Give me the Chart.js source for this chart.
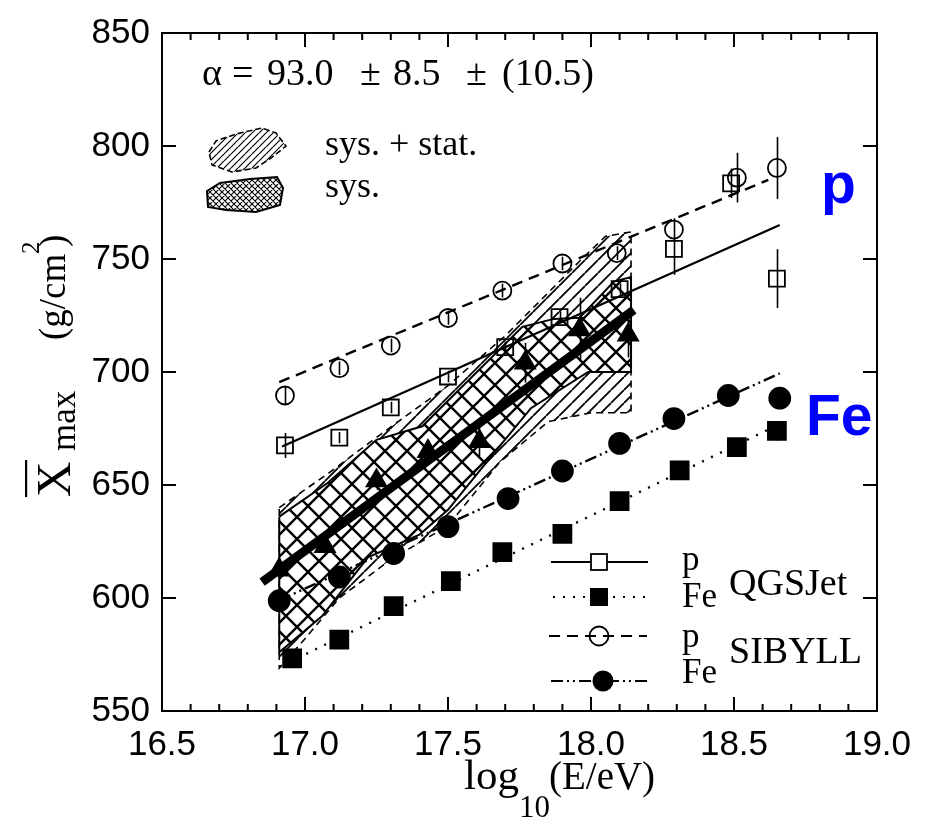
<!DOCTYPE html>
<html>
<head>
<meta charset="utf-8">
<script src="https://cdn.jsdelivr.net/npm/chart.js@4.4.1/dist/chart.umd.min.js"></script>
<style>
  html, body { margin: 0; padding: 0; background: #fff; overflow: hidden; }
  canvas { display: block; }
</style>
</head>
<body>
<canvas id="xmax" width="927" height="822" style="width:927px;height:822px"></canvas>
<script>
// axis ticks
const xTicks = [16.5, 17.0, 17.5, 18.0, 18.5, 19.0];
const xMinorTicks = [16.6, 16.7, 16.8, 16.9, 17.1, 17.2, 17.3, 17.4, 17.6, 17.7, 17.8, 17.9,
                     18.1, 18.2, 18.3, 18.4, 18.6, 18.7, 18.8, 18.9];
const yTicks = [550, 600, 650, 700, 750, 800, 850];

// measured <Xmax> (filled triangles)
const dataE = [16.91, 17.07, 17.25, 17.43, 17.61, 17.77, 17.96, 18.13];
const dataX = [612.5, 622.9, 651.9, 664.9, 669.3, 704.1, 718.8, 716.4];
const dataErr = [4, 4, 4, 5, 6.5, 8.7, 14, 10];

// straight line fit to the data, alpha = 93
const fitE = [16.85, 18.15];
const fitX = [607, 727.5];

// sys. + stat. band (upper and lower edge)
const outerUpE = [16.91, 17.08, 17.26, 17.50, 17.70, 17.96, 18.05, 18.14];
const outerUpX = [640, 655, 672, 694, 716, 749, 760, 762];
const outerLoE = [16.91, 17.00, 17.12, 17.30, 17.50, 17.68, 17.85, 18.00, 18.14];
const outerLoX = [569, 582, 600, 617, 632, 660, 678, 682, 682];

// sys. band
const innerUpE = [16.91, 17.08, 17.25, 17.41, 17.76, 17.87, 17.96, 18.08, 18.14];
const innerUpX = [636, 651, 670, 676, 720, 723.5, 724, 740, 742];
const innerLoE = [16.91, 17.06, 17.22, 17.40, 17.50, 17.66, 17.79, 17.99, 18.14];
const innerLoX = [576, 592, 618, 628, 639, 664, 684, 700, 700];

// QGSJet proton (open squares)
const qgsPE = [16.93, 17.12, 17.30, 17.50, 17.70, 17.89, 18.10, 18.29, 18.49, 18.65];
const qgsPX = [667.5, 671, 684.3, 698, 711, 724.3, 736.7, 754.5, 783.5, 741.3];
const qgsPErr = [5.5, 2.5, 2.5, 2.5, 2.5, 2.5, 2.5, 11.5, 6.5, 13];
const qgsPLineE = [16.92, 18.66];
const qgsPLineX = [667, 765];

// QGSJet iron (filled squares)
const qgsFeE = [16.955, 17.12, 17.31, 17.51, 17.69, 17.90, 18.10, 18.31, 18.51, 18.65];
const qgsFeX = [573.3, 581.6, 596.4, 607.5, 620.3, 628.4, 642.9, 656.5, 666.8, 674];
const qgsFeErr = [0, 0, 0, 0, 0, 0, 0, 0, 0, 4.3];
const qgsFeLineE = [16.91, 18.66];
const qgsFeLineX = [569.5, 677];

// SIBYLL proton (open circles)
const sibPE = [16.93, 17.12, 17.30, 17.50, 17.69, 17.90, 18.09, 18.29, 18.51, 18.65];
const sibPX = [689.6, 701.7, 711.7, 723.9, 736, 748, 752.6, 763, 786, 790.3];
const sibPErr = [4, 3, 3, 3, 3, 3, 3, 5, 11, 13.7];
const sibPLineE = [16.91, 18.62];
const sibPLineX = [695.5, 785];

// SIBYLL iron (filled circles)
const sibFeE = [16.91, 17.12, 17.31, 17.50, 17.71, 17.90, 18.10, 18.29, 18.48, 18.66];
const sibFeX = [598.8, 609.3, 619.7, 631.6, 644, 656.2, 668.4, 679.4, 689.6, 688.4];
const sibFeLineE = [16.91, 18.66];
const sibFeLineX = [599, 699.4];

const pts = (xs, ys) => xs.map((x, i) => ({x: x, y: ys[i]}));
const ring = (xu, yu, xl, yl) => {
  const up = pts(xu, yu), lo = pts(xl, yl).reverse();
  return up.concat(lo, [up[0]]);
};

function hatch(size, dirs, lw, bg) {
  const c = document.createElement('canvas');
  c.width = c.height = size;
  const g = c.getContext('2d');
  if (bg) { g.fillStyle = bg; g.fillRect(0, 0, size, size); }
  g.strokeStyle = '#000';
  g.lineWidth = lw;
  g.beginPath();
  for (let k = -1; k <= 1; k++) {
    if (dirs.includes('/')) { g.moveTo(k * size, size); g.lineTo(k * size + size, 0); }
    if (dirs.includes('\\')) { g.moveTo(k * size, 0); g.lineTo(k * size + size, size); }
  }
  g.stroke();
  return g.createPattern(c, 'repeat');
}
const ctx = document.getElementById('xmax').getContext('2d');
const diagPat = hatch(13, ['/'], 1.8, null);
const crossPat = hatch(22, ['/', '\\'], 2.4, '#fff');
const diagPatSmall = hatch(7, ['/'], 1.2, '#fff');
const crossPatSmall = hatch(6, ['/', '\\'], 1.1, '#fff');

const SERIF = "'Liberation Serif', 'Times New Roman', serif";
const SANS = "'Liberation Sans', Arial, sans-serif";

// error bars
const errSets = [
  {e: dataE, v: dataX, err: dataErr},
  {e: qgsPE, v: qgsPX, err: qgsPErr},
  {e: qgsFeE, v: qgsFeX, err: qgsFeErr},
  {e: sibPE, v: sibPX, err: sibPErr}
];
const errorBars = {
  id: 'errorBars',
  afterDatasetsDraw(chart) {
    const {ctx, scales: {x, y}} = chart;
    ctx.save();
    ctx.strokeStyle = '#000';
    ctx.lineWidth = 1.6;
    ctx.beginPath();
    errSets.forEach(s => {
      s.e.forEach((ev, i) => {
        if (!s.err[i]) return;
        const px = Math.round(x.getPixelForValue(ev)) + 0.5;
        ctx.moveTo(px, y.getPixelForValue(s.v[i] - s.err[i]));
        ctx.lineTo(px, y.getPixelForValue(s.v[i] + s.err[i]));
      });
    });
    ctx.stroke();
    ctx.restore();
  }
};

// box with inward ticks on all four sides
const frame = {
  id: 'frame',
  afterDraw(chart) {
    const {ctx, chartArea: a, scales: {x, y}} = chart;
    ctx.save();
    ctx.strokeStyle = '#000';
    ctx.lineWidth = 2;
    ctx.strokeRect(a.left, a.top, a.right - a.left, a.bottom - a.top);
    ctx.beginPath();
    const tx = (v, len) => {
      const px = x.getPixelForValue(v);
      ctx.moveTo(px, a.bottom); ctx.lineTo(px, a.bottom - len);
      ctx.moveTo(px, a.top); ctx.lineTo(px, a.top + len);
    };
    xTicks.forEach(v => tx(v, 14));
    xMinorTicks.forEach(v => tx(v, 7));
    yTicks.forEach(v => {
      const py = y.getPixelForValue(v);
      ctx.moveTo(a.left, py); ctx.lineTo(a.left + 14, py);
      ctx.moveTo(a.right, py); ctx.lineTo(a.right - 14, py);
    });
    ctx.stroke();
    ctx.restore();
  }
};

function text(ctx, s, x, y, font, color) {
  ctx.font = font;
  ctx.fillStyle = color || '#000';
  ctx.fillText(s, x, y);
}

// titles, annotations and the two legends
const labels = {
  id: 'labels',
  afterDraw(chart) {
    const {ctx} = chart;
    ctx.save();
    ctx.textBaseline = 'alphabetic';
    ctx.textAlign = 'left';

    // x title
    text(ctx, 'log', 464, 789, '43px ' + SERIF);
    text(ctx, '10', 519, 817, '31px ' + SERIF);
    text(ctx, '(E/eV)', 549, 789, '39px ' + SERIF);

    // y title, rotated
    ctx.save();
    ctx.translate(70, 497);
    ctx.rotate(-Math.PI / 2);
    text(ctx, 'X', 0, 0, '49px ' + SERIF);
    ctx.fillRect(0, -45, 37, 2.2);
    text(ctx, 'max', 46, 5, '35px ' + SERIF);
    text(ctx, '(g/cm', 157, -5, '37px ' + SERIF);
    text(ctx, '2', 243, -31, '25px ' + SERIF);
    text(ctx, ')', 250, -5, '37px ' + SERIF);
    ctx.restore();

    // elongation rate
    const f38 = '38px ' + SERIF;
    text(ctx, '\u03b1', 202, 85, f38);
    text(ctx, '=', 232, 85, f38);
    text(ctx, '93.0', 267, 85, f38);
    text(ctx, '\u00b1', 360, 85, f38);
    text(ctx, '8.5', 393, 85, f38);
    text(ctx, '\u00b1', 466, 85, f38);
    text(ctx, '(10.5)', 502, 85, f38);

    // band legend
    ctx.lineWidth = 1.6;
    ctx.strokeStyle = '#000';
    ctx.beginPath();
    [[209, 152], [216, 141], [236, 134], [262, 128], [276, 133], [286, 146], [271, 158],
     [256, 168], [232, 172], [212, 165]].forEach((p, i) => i ? ctx.lineTo(p[0], p[1]) : ctx.moveTo(p[0], p[1]));
    ctx.closePath();
    ctx.fillStyle = diagPatSmall;
    ctx.fill();
    ctx.setLineDash([6, 3]);
    ctx.stroke();
    ctx.setLineDash([]);
    ctx.beginPath();
    [[207, 191], [220, 183], [250, 179], [277, 177], [283, 188], [280, 205], [256, 212],
     [226, 210], [208, 207]].forEach((p, i) => i ? ctx.lineTo(p[0], p[1]) : ctx.moveTo(p[0], p[1]));
    ctx.closePath();
    ctx.fillStyle = crossPatSmall;
    ctx.fill();
    ctx.lineWidth = 2;
    ctx.stroke();
    text(ctx, 'sys. + stat.', 325, 155, '36px ' + SERIF);
    text(ctx, 'sys.', 325, 197, '36px ' + SERIF);

    // primary labels
    text(ctx, 'p', 821, 203, 'bold 57px ' + SANS, '#0000ff');
    text(ctx, 'Fe', 806, 435, 'bold 57px ' + SANS, '#0000ff');

    // model legend
    const row = (y, dash, x0, x1) => {
      ctx.beginPath();
      ctx.setLineDash(dash);
      ctx.lineWidth = 2.2;
      ctx.moveTo(x0, y); ctx.lineTo(x1, y);
      ctx.stroke();
      ctx.setLineDash([]);
    };
    row(562, [], 551, 648);
    ctx.fillStyle = '#fff';
    ctx.fillRect(591, 554, 16, 16);
    ctx.lineWidth = 1.8;
    ctx.strokeRect(591, 554, 16, 16);
    row(597, [2, 8], 553, 650);
    ctx.fillStyle = '#000';
    ctx.fillRect(590, 588, 18, 18);
    row(636, [11, 7], 549, 647);
    ctx.beginPath();
    ctx.lineWidth = 1.8;
    ctx.arc(599, 636, 9.5, 0, Math.PI * 2);
    ctx.stroke();
    row(681, [12, 4, 2, 4, 2, 4], 551, 648);
    ctx.beginPath();
    ctx.arc(603, 681, 10.5, 0, Math.PI * 2);
    ctx.fill();

    text(ctx, 'p', 682, 570, '35px ' + SERIF);
    text(ctx, 'Fe', 682, 607, '35px ' + SERIF);
    text(ctx, 'QGSJet', 729, 595, '38px ' + SERIF);
    text(ctx, 'p', 682, 647, '35px ' + SERIF);
    text(ctx, 'Fe', 682, 683, '35px ' + SERIF);
    text(ctx, 'SIBYLL', 729, 663, '38px ' + SERIF);
    ctx.restore();
  }
};

const line = (data, dash, width, order) => ({
  data: data, showLine: true, fill: false, borderColor: '#000', borderWidth: width,
  borderDash: dash, pointRadius: 0, order: order
});
const marks = (data, style, radius, filled, order) => ({
  data: data, showLine: false, pointStyle: style, pointRadius: radius, borderWidth: 1.8,
  pointBorderColor: '#000', pointBackgroundColor: filled ? '#000' : 'rgba(0,0,0,0)', order: order
});

new Chart(ctx, {
  type: 'line',
  data: {
    datasets: [
      {data: ring(outerUpE, outerUpX, outerLoE, outerLoX), fill: 'shape', backgroundColor: diagPat,
       borderColor: '#000', borderWidth: 1.6, borderDash: [7, 5], pointRadius: 0, order: 20},
      {data: ring(innerUpE, innerUpX, innerLoE, innerLoX), fill: 'shape', backgroundColor: crossPat,
       borderColor: '#000', borderWidth: 2, pointRadius: 0, order: 19},
      line(pts(qgsPLineE, qgsPLineX), [], 2.2, 12),
      line(pts(qgsFeLineE, qgsFeLineX), [2, 8], 2.4, 12),
      line(pts(sibPLineE, sibPLineX), [11, 7], 2.4, 12),
      line(pts(sibFeLineE, sibFeLineX), [12, 4, 2, 4, 2, 4], 2.4, 12),
      line(pts(fitE, fitX), [], 9, 10),
      marks(pts(qgsPE, qgsPX), 'rect', 11.3, false, 5),
      marks(pts(qgsFeE, qgsFeX), 'rect', 12.7, true, 5),
      marks(pts(sibPE, sibPX), 'circle', 9, false, 5),
      marks(pts(sibFeE, sibFeX), 'circle', 10.5, true, 5),
      marks(pts(dataE, dataX), 'triangle', 11.5, true, 1)
    ]
  },
  options: {
    responsive: false,
    animation: false,
    events: [],
    layout: {padding: {top: 21, right: 50, left: 0, bottom: 0}},
    elements: {line: {tension: 0, borderCapStyle: 'butt'}},
    plugins: {legend: {display: false}, tooltip: {enabled: false}},
    scales: {
      x: {
        type: 'linear', min: 16.5, max: 19.0,
        afterBuildTicks: s => { s.ticks = xTicks.map(v => ({value: v})); },
        afterFit: s => { s.height = 111; },
        ticks: {
          autoSkip: false, maxRotation: 0, padding: 13, color: '#000',
          font: {family: SANS, size: 35},
          callback: v => Number(v).toFixed(1)
        },
        grid: {display: false, drawTicks: false},
        border: {display: false}
      },
      y: {
        type: 'linear', min: 550, max: 850,
        afterBuildTicks: s => { s.ticks = yTicks.map(v => ({value: v})); },
        afterFit: s => { s.width = 162; },
        ticks: {
          padding: 12, color: '#000',
          font: {family: SANS, size: 35},
          callback: v => String(v)
        },
        grid: {display: false, drawTicks: false},
        border: {display: false}
      }
    }
  },
  plugins: [errorBars, frame, labels]
});
</script>
</body>
</html>
